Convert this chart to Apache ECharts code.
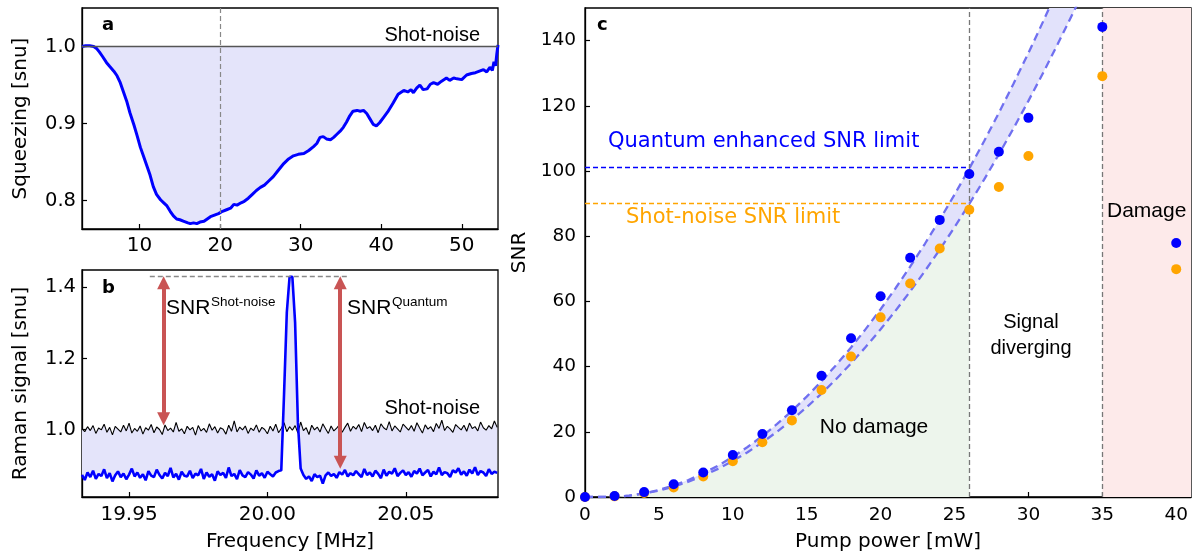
<!DOCTYPE html>
<html><head><meta charset="utf-8">
<script src="https://cdn.jsdelivr.net/npm/echarts@6.0.0/dist/echarts.min.js"></script>
<style>html,body{margin:0;padding:0;background:#fff}#c{width:1192px;height:557px}</style>
</head><body><div id="c"></div>
<script>
// ---------- Panel a: squeezing spectrum ----------
const aFreq = [2.85,3.3,3.8,4.3,4.7,5.0,5.4,5.9,6.3,6.8,7.2,7.6,8.0,8.4,8.8,9.3,9.7,10.1,10.5,10.9,11.3,11.7,12.1,12.6,13.0,13.4,13.8,14.2,14.6,15.0,15.5,16.0,16.3,16.7,17.1,17.5,18.0,18.4,18.8,19.3,19.8,20.3,20.8,21.3,21.7,22.1,22.6,23.0,23.5,24.0,24.5,25.0,25.5,26.0,26.6,27.2,27.9,28.5,29.1,29.7,30.4,31.0,31.6,32.0,32.4,32.8,33.2,33.7,34.1,34.5,34.9,35.3,35.7,36.1,36.5,37.0,37.4,37.8,38.2,38.6,39.0,39.4,39.8,40.3,40.8,41.5,42.1,42.8,43.3,43.7,44.0,44.4,44.8,45.2,45.7,46.1,46.5,47.0,47.5,48.1,48.5,49.0,49.4,50.0,50.6,51.2,51.7,52.2,52.7,53.1,53.5,53.8,54.0,54.2,54.35,54.5];
const aSqueeze = [1.000,1.001,1.001,1.000,0.997,0.993,0.987,0.979,0.974,0.968,0.962,0.953,0.941,0.929,0.914,0.898,0.884,0.869,0.857,0.845,0.833,0.818,0.808,0.801,0.797,0.793,0.786,0.780,0.776,0.775,0.773,0.771,0.770,0.771,0.770,0.772,0.773,0.776,0.779,0.781,0.783,0.786,0.788,0.790,0.795,0.794,0.797,0.799,0.803,0.808,0.813,0.817,0.820,0.825,0.831,0.839,0.848,0.854,0.858,0.860,0.861,0.865,0.870,0.874,0.882,0.883,0.880,0.879,0.882,0.886,0.890,0.895,0.902,0.910,0.916,0.917,0.916,0.917,0.913,0.906,0.899,0.897,0.901,0.908,0.915,0.927,0.938,0.943,0.941,0.944,0.940,0.946,0.950,0.944,0.945,0.951,0.953,0.951,0.955,0.959,0.956,0.959,0.958,0.957,0.963,0.965,0.966,0.968,0.970,0.967,0.973,0.969,0.980,0.975,0.990,1.002];
const shotNoiseLevel = 1.0;
const aMarkFreq = 20;
const aTicksX = [10,20,30,40,50];
const aTicksY = [0.8,0.9,1.0];

// ---------- Panel b: Raman signal ----------
const bFreqStart = 19.933, bFreqStep = 0.001;
const bShot = [1.002,0.994,1.008,0.997,1.011,0.989,1.004,0.999,1.015,0.992,1.006,0.985,1.009,1.001,0.993,1.012,0.996,1.018,0.990,1.003,
0.995,1.010,0.987,1.005,0.998,1.014,0.991,1.007,1.000,0.986,1.013,0.997,1.004,0.993,1.020,0.995,1.002,0.988,1.009,0.999,
1.006,0.984,1.011,0.996,1.003,0.992,1.016,0.998,1.008,0.990,1.005,1.001,0.987,1.012,0.995,1.024,0.993,1.007,0.999,1.010,
0.989,1.004,0.997,1.013,0.992,1.006,1.000,0.988,1.009,0.996,1.015,0.991,1.003,1.019,0.994,1.008,0.998,1.011,0.990,1.021,
0.997,1.005,0.986,1.012,0.999,1.007,0.993,1.016,1.002,0.989,1.010,0.996,1.004,1.013,0.992,1.006,1.018,0.995,1.009,1.001,
1.014,0.994,1.020,1.003,1.008,0.997,1.012,0.991,1.016,1.005,0.999,1.022,0.996,1.010,1.002,0.993,1.015,1.007,0.998,1.011,
0.995,1.019,1.004,0.990,1.013,1.001,1.008,0.994,1.017,1.003,1.026,0.997,1.009,1.002,0.992,1.014,1.006,0.999,1.012,0.995,
1.018,1.003,1.008,0.996,1.021,1.005,0.998,1.011,1.002,1.024,1.006];
const bRaman = [0.872,0.858,0.879,0.866,0.884,0.861,0.875,0.869,0.888,0.863,0.877,0.854,0.871,0.882,0.866,0.876,0.860,0.873,0.890,0.868,
0.879,0.864,0.874,0.857,0.883,0.870,0.866,0.887,0.872,0.862,0.878,0.869,0.892,0.865,0.875,0.859,0.881,0.870,0.868,0.884,
0.863,0.876,0.871,0.889,0.861,0.879,0.867,0.874,0.856,0.882,0.872,0.878,0.864,0.893,0.869,0.875,0.860,0.886,0.871,0.866,
0.880,0.873,0.862,0.885,0.870,0.877,0.864,0.881,0.874,0.868,0.879,0.883,0.885,1.100,1.330,1.430,1.430,1.300,1.020,0.890,
0.872,0.861,0.868,0.855,0.874,0.866,0.870,0.848,0.871,0.879,0.869,0.875,0.864,0.880,0.873,0.886,0.868,0.877,0.871,0.883,
0.874,0.866,0.889,0.872,0.879,0.868,0.884,0.875,0.863,0.887,0.870,0.881,0.876,0.891,0.869,0.878,0.885,0.872,0.880,0.867,
0.883,0.876,0.890,0.871,0.879,0.886,0.868,0.881,0.874,0.893,0.872,0.880,0.877,0.866,0.885,0.879,0.891,0.873,0.882,0.870,
0.887,0.876,0.894,0.872,0.883,0.879,0.869,0.888,0.875,0.881,0.878];
const bPeakLevel = 1.43;
const bPeakDash = [19.9575, 20.0297];
const bArrowShot = [19.9625, 1.43, 1.0];
const bArrowQuantum = [20.0263, 1.43, 0.878];
const bTicksX = [19.95,20.00,20.05];
const bTicksY = [1.0,1.2,1.4];

// ---------- Panel c: SNR vs pump power ----------
const cPower = [0,2,4,6,8,10,12,14,16,18,20,22,24,26,28,30,35,40];
const snrQuantum = [0,0.3,1.5,3.9,7.5,12.9,19.3,26.6,37.2,48.7,61.6,73.4,85.0,99.1,105.9,116.3,144.2,77.9];
const snrShot = [0,0.2,1.2,2.9,6.3,11.0,16.8,23.5,32.8,43.1,55.1,65.5,76.2,88.1,95.1,104.6,129.1,69.9];
const fitPower = [0,1,2,3,4,5,6,7,8,9,10,11,12,13,14,15,16,17,18,19,20,21,22,23,24,25,26,27,28,29,30,31,32,33,34];
const fitUpper = [0,0,0.06,0.43,1.13,2.16,3.52,5.22,7.25,9.62,12.31,15.34,18.71,22.40,26.43,30.80,35.49,40.52,45.88,51.57,57.60,63.96,70.66,77.68,85.05,92.74,100.77,109.13,117.82,126.85,136.21,145.90,155.9,166.3,177.0];
const fitLower = [0,0,0.06,0.40,1.03,1.96,3.19,4.71,6.53,8.64,11.05,13.75,16.75,20.05,23.64,27.53,31.72,36.20,40.98,46.06,51.43,57.10,63.07,69.33,75.89,82.75,89.91,97.36,105.11,113.16,121.51,130.15,139.09,148.33,157.7];
const quantumLimit = 101;
const shotLimit = 90;
const safeEnd = 26;
const damageStart = 35;
const cMaxPower = 41;
const cTicksX = [0,5,10,15,20,25,30,35,40];
const cTicksY = [0,20,40,60,80,100,120,140];

// ---------- build ----------
const bFreq = bShot.map((_, i) => +(bFreqStart + i * bFreqStep).toFixed(4));
const FONT = 'DejaVu Sans';

function mkAxis(o) {
  return {
    type: 'value', gridIndex: o.grid, min: o.min, max: o.max, position: o.pos,
    name: o.name, nameLocation: 'middle', nameGap: o.nameGap,
    nameTextStyle: {color: '#000', fontFamily: FONT, fontSize: 20},
    axisLine: {show: true, onZero: false, lineStyle: {color: '#000', width: 1.3}},
    axisTick: {show: true, inside: true, length: 5, customValues: o.ticks, lineStyle: {color: '#000', width: 1.2}},
    axisLabel: {show: true, customValues: o.ticks, color: '#000', fontFamily: FONT, fontSize: o.fs || 19, margin: o.margin,
      formatter: v => v.toFixed(o.dec)},
    splitLine: {show: false}
  };
}

function polySeries(xi, yi, xs1, ys1, xs2, ys2, color, z) {
  return {
    type: 'custom', xAxisIndex: xi, yAxisIndex: yi, clip: true, silent: true, z: z,
    data: [[xs1[0], ys1[0]]],
    renderItem: (params, api) => {
      const pts = [];
      for (let i = 0; i < xs1.length; i++) pts.push(api.coord([xs1[i], ys1[i]]));
      for (let i = xs2.length - 1; i >= 0; i--) pts.push(api.coord([xs2[i], ys2[i]]));
      return {type: 'polygon', shape: {points: pts}, style: {fill: color}};
    }
  };
}

const gridStyle = {show: true, borderColor: '#000', borderWidth: 1.3, containLabel: false};

const option = {
  animation: false,
  backgroundColor: '#fff',
  grid: [
    Object.assign({left: 82, top: 8, width: 416, height: 221}, gridStyle),
    Object.assign({left: 82, top: 270, width: 416, height: 227}, gridStyle),
    Object.assign({left: 585, top: 8, width: 606, height: 489}, gridStyle)
  ],
  xAxis: [
    mkAxis({grid: 0, min: 2.85, max: 54.5, pos: 'bottom', ticks: aTicksX, dec: 0, margin: 7, fs: 20}),
    mkAxis({grid: 1, min: 19.933, max: 20.0833, pos: 'bottom', ticks: bTicksX, dec: 2, margin: 8, fs: 20, name: 'Frequency [MHz]', nameGap: 35}),
    mkAxis({grid: 2, min: 0, max: cMaxPower, pos: 'bottom', ticks: cTicksX, dec: 0, margin: 9, fs: 18.5, name: 'Pump power [mW]', nameGap: 35})
  ],
  yAxis: [
    mkAxis({grid: 0, min: 0.763, max: 1.05, pos: 'left', ticks: aTicksY, dec: 1, margin: 6, fs: 19.5, name: 'Squeezing [snu]', nameGap: 51}),
    mkAxis({grid: 1, min: 0.81, max: 1.449, pos: 'left', ticks: bTicksY, dec: 1, margin: 6, fs: 19.5, name: 'Raman signal [snu]', nameGap: 51}),
    mkAxis({grid: 2, min: 0, max: 150, pos: 'left', ticks: cTicksY, dec: 0, margin: 9, fs: 18.5, name: 'SNR', nameGap: 47})
  ],
  series: [
    // ---- panel a ----
    polySeries(0, 0, aFreq, aSqueeze, [aFreq[0], aFreq[aFreq.length - 1]], [shotNoiseLevel, shotNoiseLevel], '#e4e4fa', 1),
    {
      type: 'line', xAxisIndex: 0, yAxisIndex: 0, data: aFreq.map((f, i) => [f, aSqueeze[i]]),
      symbol: 'none', lineStyle: {color: '#0000ff', width: 3}, z: 4, silent: true,
      markLine: {
        silent: true, symbol: 'none', label: {show: false}, animation: false,
        data: [
          {yAxis: shotNoiseLevel, lineStyle: {color: '#555', width: 1.4, type: 'solid'}},
          {xAxis: aMarkFreq, lineStyle: {color: '#888', width: 1.2, type: [5, 3]}}
        ]
      }
    },
    // ---- panel b ----
    polySeries(1, 1, bFreq, bRaman, bFreq, bShot, '#e4e4fa', 1),
    {
      type: 'line', xAxisIndex: 1, yAxisIndex: 1, data: bFreq.map((f, i) => [f, bShot[i]]),
      symbol: 'none', lineStyle: {color: '#000', width: 1.1}, z: 3, silent: true,
      markLine: {
        silent: true, symbol: 'none', label: {show: false}, animation: false,
        data: [[{coord: [bPeakDash[0], bPeakLevel]}, {coord: [bPeakDash[1], bPeakLevel]}]],
        lineStyle: {color: '#888', width: 1.3, type: [5, 3]}
      }
    },
    {
      type: 'line', xAxisIndex: 1, yAxisIndex: 1, data: bFreq.map((f, i) => [f, bRaman[i]]),
      symbol: 'none', lineStyle: {color: '#0000ff', width: 2.6}, z: 4, silent: true,
      markLine: {
        silent: true, symbol: ['triangle', 'triangle'], symbolSize: [13, 13], label: {show: false}, animation: false,
        lineStyle: {color: '#c95454', width: 4, type: 'solid'},
        data: [
          [{coord: [bArrowShot[0], bArrowShot[1] - 0.017]}, {coord: [bArrowShot[0], bArrowShot[2] + 0.03]}],
          [{coord: [bArrowQuantum[0], bArrowQuantum[1] - 0.017]}, {coord: [bArrowQuantum[0], bArrowQuantum[2] + 0.03]}]
        ]
      }
    },
    // ---- panel c ----
    {
      type: 'line', xAxisIndex: 2, yAxisIndex: 2, silent: true, z: 1,
      data: fitPower.filter(p => p <= safeEnd).map((p, i) => [p, fitLower[i]]),
      symbol: 'none', lineStyle: {width: 0}, areaStyle: {color: '#edf5ec', opacity: 1},
      markArea: {silent: true, itemStyle: {color: '#fdeaea'}, data: [[{xAxis: damageStart}, {xAxis: cMaxPower}]]}
    },
    polySeries(2, 2, fitPower, fitUpper, fitPower, fitLower, '#e2e2fb', 2),
    {
      type: 'line', xAxisIndex: 2, yAxisIndex: 2, silent: true, z: 3,
      data: fitPower.map((p, i) => [p, fitUpper[i]]), symbol: 'none',
      lineStyle: {color: '#7070f0', width: 2.3, type: [8, 5]}
    },
    {
      type: 'line', xAxisIndex: 2, yAxisIndex: 2, silent: true, z: 3,
      data: fitPower.map((p, i) => [p, fitLower[i]]), symbol: 'none',
      lineStyle: {color: '#7070f0', width: 2.3, type: [8, 5]},
      markLine: {
        silent: true, symbol: 'none', label: {show: false}, animation: false,
        data: [
          [{coord: [0, quantumLimit], lineStyle: {color: '#0000ff', width: 1.4, type: [5, 3]}}, {coord: [safeEnd, quantumLimit]}],
          [{coord: [0, shotLimit], lineStyle: {color: '#ffa500', width: 1.4, type: [5, 3]}}, {coord: [safeEnd, shotLimit]}],
          {xAxis: safeEnd, lineStyle: {color: '#777', width: 1.3, type: [5, 3]}},
          {xAxis: damageStart, lineStyle: {color: '#777', width: 1.3, type: [5, 3]}}
        ]
      }
    },
    {
      type: 'scatter', xAxisIndex: 2, yAxisIndex: 2, silent: true, z: 5, clip: false,
      data: cPower.map((p, i) => [p, snrShot[i]]), symbolSize: 10, itemStyle: {color: '#ffa500', opacity: 1}
    },
    {
      type: 'scatter', xAxisIndex: 2, yAxisIndex: 2, silent: true, z: 6, clip: false,
      data: cPower.map((p, i) => [p, snrQuantum[i]]), symbolSize: 10, itemStyle: {color: '#0000ff', opacity: 1}
    }
  ],
  graphic: [
    {type: 'text', x: 102, y: 25.5, z: 100, style: {text: 'a', font: 'bold 18px "DejaVu Sans"', fill: '#000', align: 'left', verticalAlign: 'middle'}},
    {type: 'text', x: 480, y: 35, z: 100, style: {text: 'Shot-noise', font: '20px "Liberation Sans"', fill: '#000', align: 'right', verticalAlign: 'middle'}},
    {type: 'text', x: 102, y: 288.5, z: 100, style: {text: 'b', font: 'bold 18px "DejaVu Sans"', fill: '#000', align: 'left', verticalAlign: 'middle'}},
    {type: 'text', x: 166, y: 308, z: 100, style: {text: 'SNR', font: '21px "Liberation Sans"', fill: '#000', align: 'left', verticalAlign: 'middle'}},
    {type: 'text', x: 211, y: 302.5, z: 100, style: {text: 'Shot-noise', font: '13.5px "Liberation Sans"', fill: '#000', align: 'left', verticalAlign: 'middle'}},
    {type: 'text', x: 347, y: 308, z: 100, style: {text: 'SNR', font: '21px "Liberation Sans"', fill: '#000', align: 'left', verticalAlign: 'middle'}},
    {type: 'text', x: 392, y: 302.5, z: 100, style: {text: 'Quantum', font: '13.5px "Liberation Sans"', fill: '#000', align: 'left', verticalAlign: 'middle'}},
    {type: 'text', x: 480, y: 408, z: 100, style: {text: 'Shot-noise', font: '20px "Liberation Sans"', fill: '#000', align: 'right', verticalAlign: 'middle'}},
    {type: 'text', x: 597, y: 25.5, z: 100, style: {text: 'c', font: 'bold 18px "DejaVu Sans"', fill: '#000', align: 'left', verticalAlign: 'middle'}},
    {type: 'text', x: 608, y: 142, z: 100, style: {text: 'Quantum enhanced SNR limit', font: '21px "DejaVu Sans"', fill: '#0000ff', align: 'left', verticalAlign: 'middle'}},
    {type: 'text', x: 626, y: 218, z: 100, style: {text: 'Shot-noise SNR limit', font: '21px "DejaVu Sans"', fill: '#ffa500', align: 'left', verticalAlign: 'middle'}},
    {type: 'text', x: 1031, y: 322, z: 100, style: {text: 'Signal', font: '20px "Liberation Sans"', fill: '#000', align: 'center', verticalAlign: 'middle'}},
    {type: 'text', x: 1031, y: 348, z: 100, style: {text: 'diverging', font: '20px "Liberation Sans"', fill: '#000', align: 'center', verticalAlign: 'middle'}},
    {type: 'text', x: 874, y: 427, z: 100, style: {text: 'No damage', font: '21px "Liberation Sans"', fill: '#000', align: 'center', verticalAlign: 'middle'}},
    {type: 'text', x: 1107, y: 211, z: 100, style: {text: 'Damage', font: '21px "Liberation Sans"', fill: '#000', align: 'left', verticalAlign: 'middle'}}
  ]
};

const chart = echarts.init(document.getElementById('c'), null, {renderer: 'canvas'});
chart.setOption(option);
</script></body></html>
